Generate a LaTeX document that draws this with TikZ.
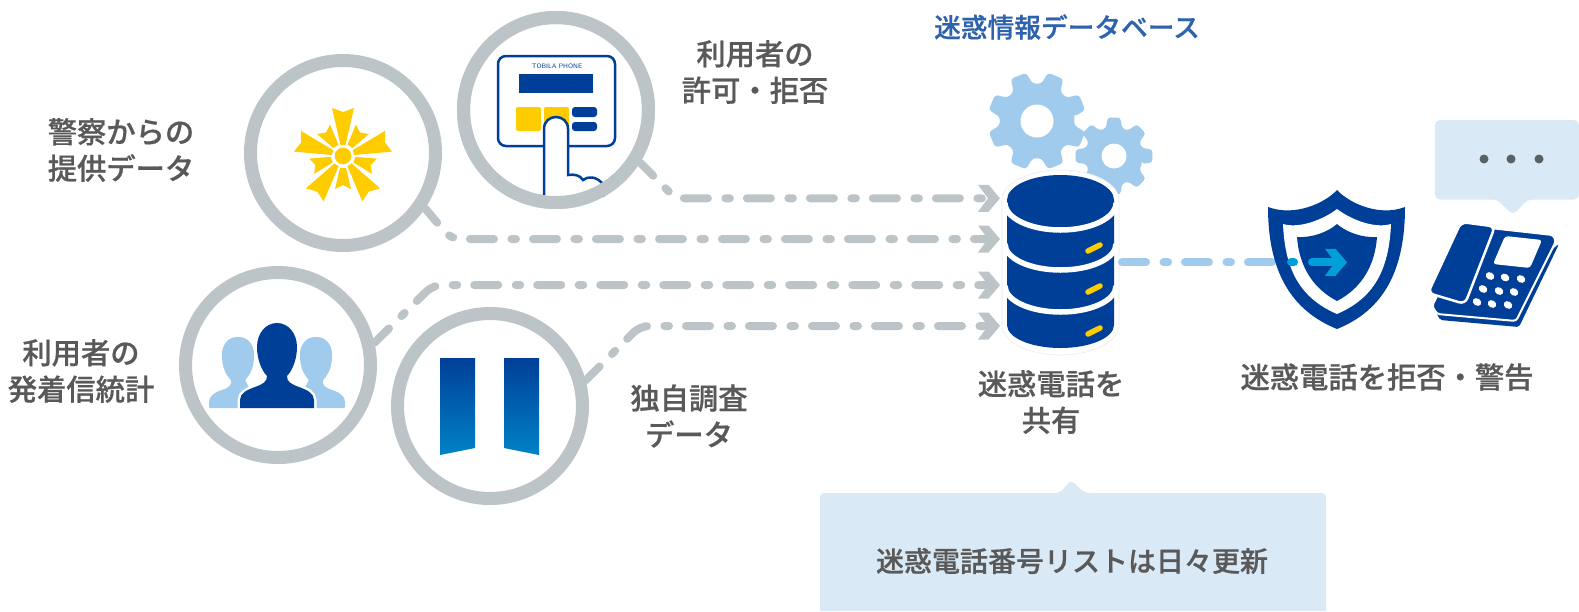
\documentclass[tikz,border=0pt]{standalone}
\usepackage{fontspec}
\setmainfont{Noto Sans CJK JP}
\newfontfamily\medfont[FakeBold=0.6]{Noto Sans CJK JP Medium}
\usetikzlibrary{arrows.meta,calc,shapes.geometric}
\definecolor{ringgray}{HTML}{BCC4C7}
\definecolor{navy}{HTML}{003F98}
\definecolor{sky}{HTML}{A0CBEC}
\definecolor{pale}{HTML}{DAE9F6}
\definecolor{gold}{HTML}{FFCC00}
\definecolor{cyanish}{HTML}{009FDC}
\definecolor{txt}{HTML}{595959}
\definecolor{headblue}{HTML}{2F62AC}
\definecolor{dotgray}{HTML}{596164}
\pgfdeclarearrow{
  name=Chev,
  setup code={\pgfarrowssettipend{12pt}\pgfarrowssetlineend{0pt}\pgfarrowssetbackend{-10pt}\pgfarrowssetvisualbackend{-10pt}},
  drawing code={
    \pgfpathmoveto{\pgfqpoint{-10pt}{13.5pt}}
    \pgfpathlineto{\pgfqpoint{0.5pt}{13.5pt}}
    \pgfpathlineto{\pgfqpoint{12pt}{0pt}}
    \pgfpathlineto{\pgfqpoint{0.5pt}{-13.5pt}}
    \pgfpathlineto{\pgfqpoint{-10pt}{-13.5pt}}
    \pgfpathlineto{\pgfqpoint{0pt}{0pt}}
    \pgfpathclose
    \pgfusepathqfill
  },
  defaults={}
}
\tikzset{
  ring/.style={circle,draw=ringgray,line width=13pt,fill=white,minimum size=185pt,inner sep=0pt},
  dashdot/.style={line width=8pt,line cap=round,dash pattern=on 24pt off 17.5pt on 4.5pt off 17pt,dash phase=#1},
  feed/.style={draw=ringgray,dashdot=#1,rounded corners=9pt,-{Chev}},
  lbl/.style={text=txt,font=\fontsize{29.3}{36.5}\selectfont\medfont,align=center,inner sep=0pt},
  gearfill/.style={fill=sky,rounded corners=3pt},
}
\newcommand{\gearshape}[5]{%
  \fill[gearfill] ([shift={(#5-16:#3 pt)}]#1,#2)
  \foreach \i in {0,45,...,315}{
    -- ([shift={(#5+\i-16:#3 pt)}]#1,#2)
    -- ([shift={(#5+\i-9.5:#4 pt)}]#1,#2)
    -- ([shift={(#5+\i+9.5:#4 pt)}]#1,#2)
    -- ([shift={(#5+\i+16:#3 pt)}]#1,#2)
  } -- cycle;}
\begin{document}
\begin{tikzpicture}[x=1pt,y=-1pt]
\useasboundingbox (0,0) rectangle (1579,611);
\fill[white] (0,0) rectangle (1579,611);

% rings
\node[ring] (tap) at (556,110) {};
\node[ring] (police) at (343,153) {};
\node[ring] (users) at (278,365) {};
\node[ring] (own) at (490,406) {};

% database anchor node
\node[minimum width=120pt,minimum height=185pt,inner sep=0pt,outer sep=0pt] (db) at (1060,262) {};

% gears
\gearshape{1037}{121}{37.5}{49.5}{22.5}
\fill[white] (1037,121) circle[radius=16.5pt];
\fill[white] (1114,156) circle[radius=33pt];
\gearshape{1114}{156}{29}{39}{0}
\fill[white] (1114,156) circle[radius=12.5pt];

% connectors
\coordinate (c1) at (675.5,198.3);
\coordinate (c2) at (451,239);
\coordinate (c3) at (433,285);
\coordinate (c4) at (640,326);
\draw[feed=5.2pt] (tap.-32) -- (c1) -- ([yshift=63.7pt]db.west);
\draw[feed=5.2pt] (police.-34) -- (c2) -- ([yshift=23pt]db.west);
\draw[feed=3.6pt] (users.13) -- (c3) -- ([yshift=-23pt]db.west);
\draw[feed=4.2pt] (own.15) -- (c4) -- ([yshift=-64pt]db.west);

% database
\path[fill=white,draw=black!8,line width=.6pt] (1002,200) arc[start angle=180,end angle=0,x radius=58.5pt,y radius=30pt]
  -- (1119,325) arc[start angle=0,end angle=-180,x radius=58.5pt,y radius=30pt] -- cycle;
\fill[navy] (1007,200) arc[start angle=180,end angle=0,x radius=53.5pt,y radius=25pt]
  -- (1114,325) arc[start angle=0,end angle=-180,x radius=53.5pt,y radius=23pt] -- cycle;
\draw[white,line width=5.5pt] (1005,203) arc[start angle=180,end angle=360,x radius=55.5pt,y radius=27pt];
\draw[white,line width=5.5pt] (1005,244) arc[start angle=180,end angle=360,x radius=55.5pt,y radius=26pt];
\draw[white,line width=5.5pt] (1005,286) arc[start angle=180,end angle=360,x radius=55.5pt,y radius=26pt];
\foreach \yy in {248,289,331}
  \draw[gold,line width=5.5pt,line cap=round] (1088,\yy+3) -- (1100,\yy-3);

% blue connector under the shield
\coordinate (b1) at (1285,262.3);
\draw[sky,dashdot=61pt] (db.east |- b1) -- (b1);

% shield
\fill[navy] (1337,190) .. controls (1325,203) and (1295,217) .. (1268,207)
  .. controls (1268,270) and (1290,310) .. (1337,329)
  .. controls (1384,310) and (1405,270) .. (1405,207)
  .. controls (1379,217) and (1349,203) .. (1337,190) -- cycle;
\fill[white] (1337,209) .. controls (1324,219) and (1300,229) .. (1283,224)
  .. controls (1285,270) and (1300,298) .. (1337,314)
  .. controls (1374,298) and (1389,270) .. (1391,224)
  .. controls (1374,229) and (1350,219) .. (1337,209) -- cycle;
\fill[navy] (1337,224) .. controls (1328,232) and (1312,238) .. (1297,237)
  .. controls (1299,265) and (1312,288) .. (1337,301)
  .. controls (1362,288) and (1375,265) .. (1377,237)
  .. controls (1362,238) and (1346,232) .. (1337,224) -- cycle;
\coordinate (b2) at (1291,262.3);
\coordinate (b3) at (1294,262.3);
\draw[cyanish,line width=8pt,line cap=round] (b2) -- (b3);
\coordinate (b4) at (1312,262.3);
\coordinate (b5) at (1347,262.3);
\draw[cyanish,line width=8pt,line cap=round,-{Chev}] (b4) -- (b5);

% phone
\fill[pale,rounded corners=5pt] (1435,120) -- (1579,120) -- (1579,199.5) -- (1528,199.5) -- (1513,215) -- (1497,199.5) -- (1435,199.5) -- cycle;
\foreach \xx in {1484,1511,1539}
  \fill[dotgray] (\xx,159) circle[radius=4.5pt];
\fill[navy,rounded corners=2pt] (1559,244) -- (1519,327) -- (1440,320) -- (1436,312) -- (1500,290) -- cycle;
\filldraw[navy,draw=white,line width=2pt,rounded corners=3pt] (1490,228) -- (1553,235) -- (1556,241) -- (1516,321) -- (1437,314) -- (1432,306) -- (1440,290) -- cycle;
\filldraw[navy,draw=white,line width=2.5pt,rounded corners=6pt] (1461,222) -- (1495,226.5) -- (1465,304) -- (1428,293) -- cycle;
\fill[white,rounded corners=3pt] (1505,236) -- (1542,240) -- (1530,268) -- (1493,264) -- cycle;
\foreach \xx/\yy in {1490/276,1505/277.5,1521/279,1483/289,1499/291,1514/292,1477/302,1492/304,1508/305}
  \fill[white,rotate around={-30:(\xx,\yy)}] (\xx,\yy) ellipse[x radius=4.5pt,y radius=3.6pt];

% tap panel
\draw[navy,line width=2.5pt,rounded corners=8pt] (498,56) rectangle (615,146);
\node[text=navy,font=\fontsize{6.5}{7}\selectfont\sffamily,inner sep=0pt] (brand) at (557,66) {TOBILA PHONE};
\fill[navy] (519,74) rectangle (593,93);
\fill[gold,rounded corners=2pt] (516,107) rectangle (541,131);
\fill[gold,rounded corners=2pt] (544,107) rectangle (569,131);
\fill[navy,rounded corners=3pt] (572,107) rectangle (597,117);
\fill[navy,rounded corners=3pt] (572,122) rectangle (597,131);
\filldraw[fill=white,draw=navy,line width=2.5pt] (544,197) -- (544,129)
  .. controls (544,121) and (550,117) .. (556,117) .. controls (562,117) and (568,121) .. (568,129)
  -- (568,175) .. controls (574,174) and (580,175) .. (583,180)
  .. controls (588,176) and (596,176) .. (603,184) -- (603,197);
\draw[white,line width=3pt] (542,198.5) -- (606,198.5);
\draw[ringgray,line width=13pt] (556,110) circle[radius=92.5pt];

% police emblem
\foreach \a in {0,72,...,288}{
  \begin{scope}[shift={(343,156)},rotate=\a,x=1pt,y=1pt]
    \fill[gold] (-2.5,11) -- (-11,48) -- (0,44) -- (11,48) -- (2.5,11) -- cycle;
    \begin{scope}[rotate=36]
      \fill[gold] (-3,12) -- (-8,33) -- (0,29) -- (8,33) -- (3,12) -- cycle;
    \end{scope}
  \end{scope}
}
\fill[white] (343,156) circle[radius=10.5pt];
\fill[gold] (343,156) circle[radius=8.3pt];

% users
\begin{scope}
  \fill[sky,rounded corners=1pt] (209,408) -- (209,403) .. controls (209,397) and (213,393) .. (222,390) .. controls (228,388) and (232,385) .. (231,380) .. controls (226,375) and (222,367) .. (222,355) .. controls (222,344) and (229,337) .. (238,337) .. controls (247,337) and (254,344) .. (254,355) .. controls (254,367) and (250,375) .. (245,380) -- (260,408) -- cycle;
\end{scope}
\begin{scope}[shift={(554,0)},xscale=-1]
  \fill[sky,rounded corners=1pt] (209,408) -- (209,403) .. controls (209,397) and (213,393) .. (222,390) .. controls (228,388) and (232,385) .. (231,380) .. controls (226,375) and (222,367) .. (222,355) .. controls (222,344) and (229,337) .. (238,337) .. controls (247,337) and (254,344) .. (254,355) .. controls (254,367) and (250,375) .. (245,380) -- (260,408) -- cycle;
\end{scope}
\filldraw[fill=navy,draw=white,line width=5pt] (240,408) -- (240,400) .. controls (240,393) and (247,390) .. (255,387) .. controls (263,384) and (267,382) .. (267,376) .. controls (261,370) and (257,358) .. (257,347) .. controls (257,333) and (266,323) .. (277,323) .. controls (288,323) and (297,333) .. (297,347) .. controls (297,358) and (293,370) .. (287,376) .. controls (287,382) and (291,384) .. (299,387) .. controls (307,390) and (314,393) .. (314,400) -- (314,408) -- cycle;
\fill[navy] (240,408) -- (240,400) .. controls (240,393) and (247,390) .. (255,387) .. controls (263,384) and (267,382) .. (267,376) .. controls (261,370) and (257,358) .. (257,347) .. controls (257,333) and (266,323) .. (277,323) .. controls (288,323) and (297,333) .. (297,347) .. controls (297,358) and (293,370) .. (287,376) .. controls (287,382) and (291,384) .. (299,387) .. controls (307,390) and (314,393) .. (314,400) -- (314,408) -- cycle;

% ribbons
\shade[top color=navy,bottom color=cyanish!70!navy] (440,358) -- (475,358) -- (475,448) -- (440,455) -- cycle;
\shade[top color=navy,bottom color=cyanish!70!navy] (504,358) -- (539,358) -- (539,455) -- (504,448) -- cycle;

% bottom callout
\fill[pale] (820,611) [rounded corners=4pt] -- (820,493) -- (1060,493) -- (1066,486) -- (1071,480) -- (1077,486) -- (1085,493) -- (1326,493) [sharp corners] -- (1326,611) -- cycle;

% labels
\node[lbl,text=headblue,font=\fontsize{26.7}{30}\selectfont\medfont] (tdb) at (1067,27) {迷惑情報データベース};
\node[lbl] (t1) at (755,72) {利用者の\\許可・拒否};
\node[lbl] (t2) at (121,150) {警察からの\\提供データ};
\node[lbl] (t3) at (81,371) {利用者の\\発着信統計};
\node[lbl] (t4) at (689,416) {独自調査\\データ};
\node[lbl] (t5) at (1051,402) {迷惑電話を\\共有};
\node[lbl] (t6) at (1387,377) {迷惑電話を拒否・警告};
\node[lbl,font=\fontsize{28}{36}\selectfont\medfont] (t7) at (1072,561) {迷惑電話番号リストは日々更新};
\end{tikzpicture}
\end{document}
